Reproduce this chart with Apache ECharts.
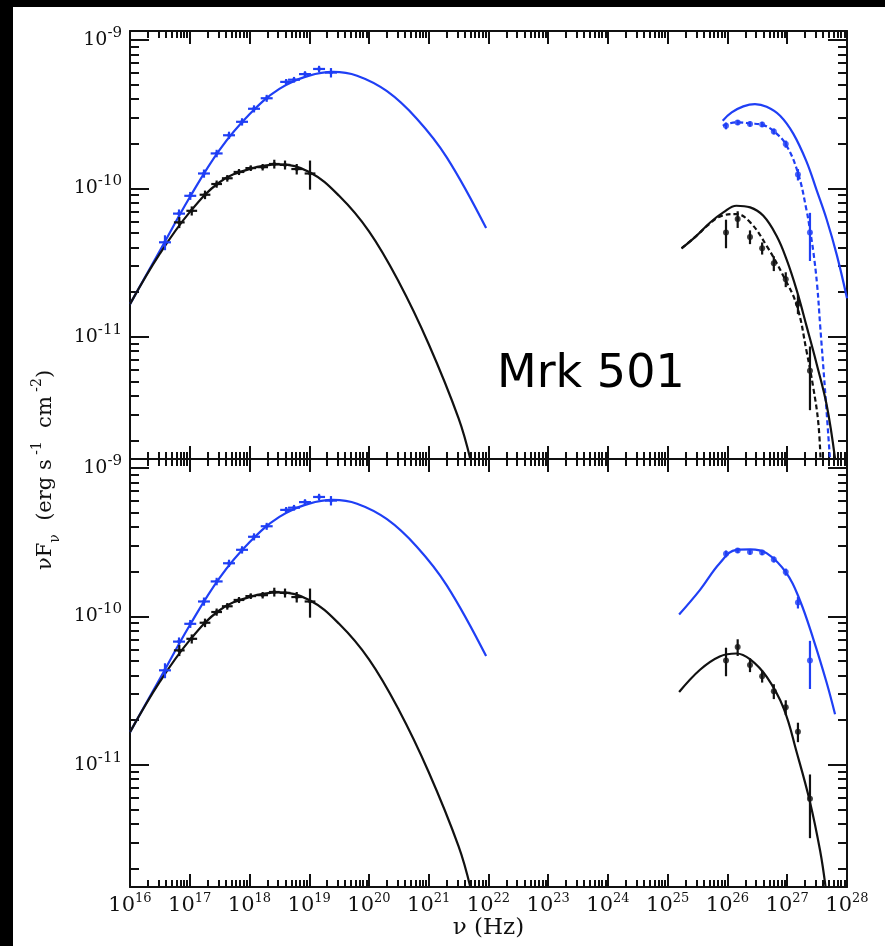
<!DOCTYPE html>
<html>
<head>
<meta charset="utf-8">
<script src="https://cdn.jsdelivr.net/npm/echarts@6/dist/echarts.min.js"></script>
<style>
  html, body { margin: 0; padding: 0; background: #000; }
  #chart { position: absolute; left: 13px; top: 7px; width: 872px; height: 939px; background: #fff; }
</style>
</head>
<body>
<div id="chart"></div>
<script>
// ---- axis decades (Hz and erg s^-1 cm^-2) ----
const nuDecades = [1e16, 1e17, 1e18, 1e19, 1e20, 1e21, 1e22, 1e23, 1e24, 1e25, 1e26, 1e27, 1e28];
const fluxDecades = [1e-12, 1e-11, 1e-10, 1e-9];
const NU_RANGE = [1e16, 1e28];
const FLUX_RANGE = [1.5e-12, 1.15e-9];

// ---- X-ray (synchrotron) observations, identical in both panels ----
const blueSynNu = [3.85e16, 6.61e16, 1.02e17, 1.73e17, 2.82e17, 4.54e17, 7.50e17, 1.19e18, 1.94e18, 4.11e18, 5.56e18, 8.49e18, 1.46e19, 2.31e19];
const blueSynFlux = [4.33e-11, 6.76e-11, 8.91e-11, 1.26e-10, 1.72e-10, 2.28e-10, 2.81e-10, 3.44e-10, 4.05e-10, 5.22e-10, 5.40e-10, 5.89e-10, 6.38e-10, 6.03e-10];
const blueSynErr = [0.5e-11, 0.45e-11, 0.55e-11, 0.8e-11, 1.0e-11, 1.3e-11, 1.6e-11, 1.9e-11, 2.2e-11, 2.4e-11, 2.4e-11, 2.7e-11, 3.2e-11, 4.4e-11];
const BLUE_SYN_BIN_DEX = 0.1;

const blackSynNu = [6.68e16, 1.08e17, 1.80e17, 2.82e17, 4.25e17, 6.67e17, 1.05e18, 1.66e18, 2.60e18, 3.93e18, 6.17e18, 1.03e19];
const blackSynFlux = [5.90e-11, 7.06e-11, 9.06e-11, 1.07e-10, 1.17e-10, 1.29e-10, 1.37e-10, 1.39e-10, 1.46e-10, 1.44e-10, 1.35e-10, 1.26e-10];
const blackSynErr = [0.5e-11, 0.5e-11, 0.6e-11, 0.6e-11, 0.6e-11, 0.6e-11, 0.6e-11, 0.7e-11, 1.0e-11, 1.0e-11, 1.1e-11, 2.8e-11];
const BLACK_SYN_BIN_DEX = 0.09;

// ---- TeV observations, identical in both panels ----
const icNu = [9.44e25, 1.48e26, 2.38e26, 3.80e26, 5.96e26, 9.44e26, 1.51e27, 2.40e27];
const blueIcFlux = [2.64e-10, 2.78e-10, 2.72e-10, 2.70e-10, 2.42e-10, 1.99e-10, 1.24e-10, 5.04e-11];
const blueIcErr = [0.14e-10, 0.11e-10, 0.11e-10, 0.11e-10, 0.11e-10, 0.11e-10, 0.11e-10, 1.8e-11];
const blackIcFlux = [5.05e-11, 6.21e-11, 4.71e-11, 3.95e-11, 3.13e-11, 2.44e-11, 1.67e-11, 5.9e-12];
const blackIcErr = [1.1e-11, 0.8e-11, 0.5e-11, 0.37e-11, 0.36e-11, 0.28e-11, 0.25e-11, 2.7e-12];
const IC_BIN_DEX = 0.015;

// ---- synchrotron model curves (both panels) ----
const synBlueModelNu = [1e16, 3.16e16, 1e17, 3.16e17, 1e18, 3.16e18, 1e19, 2.51e19, 6.31e19, 2e20, 6.31e20, 2e21, 9.12e21];
const synBlueModelFlux = [1.66e-11, 3.80e-11, 8.71e-11, 1.82e-10, 3.16e-10, 4.68e-10, 5.75e-10, 6.10e-10, 5.75e-10, 4.52e-10, 2.95e-10, 1.62e-10, 5.4e-11];
const synBlackModelNu = [1e16, 3.16e16, 1e17, 3.16e17, 1e18, 3.16e18, 1e19, 3.16e19, 1e20, 3.16e20, 1e21, 3.16e21, 5.0e21];
const synBlackModelFlux = [1.66e-11, 3.63e-11, 6.92e-11, 1.10e-10, 1.35e-10, 1.45e-10, 1.29e-10, 8.91e-11, 5.13e-11, 2.34e-11, 8.91e-12, 2.82e-12, 1.48e-12];

// ---- inverse-Compton model curves, upper panel (solid and dashed) ----
const icTopBlueSolidNu = [8.32e25, 1.175e26, 1.84e26, 2.88e26, 4.52e26, 7.59e26, 1.26e27, 2.11e27, 3.09e27, 4.57e27, 6.76e27, 1e28];
const icTopBlueSolidFlux = [2.86e-10, 3.25e-10, 3.57e-10, 3.70e-10, 3.55e-10, 3.09e-10, 2.34e-10, 1.51e-10, 9.77e-11, 6.17e-11, 3.55e-11, 1.82e-11];
const icTopBlueDashNu = [8.32e25, 1.41e26, 2.40e26, 3.98e26, 6.24e26, 9.77e26, 1.53e27, 2.11e27, 2.40e27, 2.72e27, 3.16e27, 3.55e27, 4.27e27, 5.25e27];
const icTopBlueDashFlux = [2.64e-10, 2.79e-10, 2.74e-10, 2.67e-10, 2.39e-10, 1.94e-10, 1.25e-10, 7.08e-11, 5.25e-11, 3.80e-11, 2.24e-11, 1.20e-11, 4.47e-12, 1.41e-12];
const icTopBlackSolidNu = [1.70e25, 3.02e25, 5.13e25, 8.51e25, 1.41e26, 2.40e26, 3.98e26, 6.61e26, 9.77e26, 1.45e27, 2.11e27, 3.09e27, 4.57e27, 6.31e27];
const icTopBlackSolidFlux = [3.94e-11, 4.79e-11, 5.89e-11, 6.89e-11, 7.64e-11, 7.45e-11, 6.53e-11, 4.79e-11, 3.31e-11, 2.04e-11, 1.175e-11, 6.61e-12, 3.47e-12, 1.51e-12];
const icTopBlackDashNu = [1.70e25, 3.02e25, 5.13e25, 7.94e25, 1.41e26, 2.40e26, 4.52e26, 8.61e26, 1.45e27, 2.11e27, 2.72e27, 3.31e27, 3.63e27];
const icTopBlackDashFlux = [3.94e-11, 4.79e-11, 5.82e-11, 6.53e-11, 6.71e-11, 5.90e-11, 4.10e-11, 2.57e-11, 1.62e-11, 7.94e-12, 4.57e-12, 2.63e-12, 1.41e-12];

// ---- inverse-Compton model curves, lower panel ----
const icBotBlueNu = [1.55e25, 3.47e25, 7.41e25, 1.41e26, 2.40e26, 4.57e26, 9.77e26, 1.62e27, 2.75e27, 4.57e27, 6.31e27];
const icBotBlueFlux = [1.03e-10, 1.51e-10, 2.28e-10, 2.81e-10, 2.83e-10, 2.66e-10, 1.95e-10, 1.29e-10, 6.98e-11, 3.57e-11, 2.19e-11];
const icBotBlackNu = [1.55e25, 3.47e25, 7.41e25, 1.41e26, 2.40e26, 4.57e26, 8.71e26, 1.45e27, 2.40e27, 3.55e27, 4.37e27];
const icBotBlackFlux = [3.09e-11, 4.37e-11, 5.37e-11, 5.62e-11, 5.13e-11, 3.89e-11, 2.40e-11, 1.20e-11, 5.62e-12, 2.63e-12, 1.51e-12];

// ---- styling ----
const INK = '#111111';
const BLUE = '#1f3ff5';
const SERIF = '"DejaVu Serif", "Liberation Serif", serif';

function minorTicks(decades, lo, hi) {
  const out = [];
  decades.forEach(d => {
    for (let k = 2; k <= 9; k++) {
      const v = k * d;
      if (v > lo && v < hi) out.push(v);
    }
  });
  return out;
}
const nuMinor = minorTicks(nuDecades, NU_RANGE[0], NU_RANGE[1]);
const fluxMajor = fluxDecades.filter(v => v >= FLUX_RANGE[0] && v <= FLUX_RANGE[1]);
const fluxMinor = minorTicks(fluxDecades, FLUX_RANGE[0], FLUX_RANGE[1]);

function powerLabel(value) {
  const e = Math.round(Math.log10(value));
  return '{b|10}{s|' + e + '}';
}

const frameLine = { show: true, onZero: false, lineStyle: { color: INK, width: 2 } };
const tickLine = { color: INK, width: 2 };

function xAxesFor(g, withLabels) {
  const base = {
    gridIndex: g, type: 'log', logBase: 10, min: NU_RANGE[0], max: NU_RANGE[1],
    splitLine: { show: false }, minorTick: { show: false }, minorSplitLine: { show: false }
  };
  return [
    Object.assign({}, base, {
      position: 'bottom', axisLine: frameLine,
      axisTick: { show: true, inside: true, length: 13, customValues: nuDecades, lineStyle: tickLine },
      axisLabel: {
        show: withLabels, customValues: nuDecades, formatter: powerLabel, margin: 8,
        rich: {
          b: { fontFamily: SERIF, fontSize: 21, color: INK, verticalAlign: 'bottom', lineHeight: 21 },
          s: { fontFamily: SERIF, fontSize: 13, color: INK, verticalAlign: 'bottom', lineHeight: 13, padding: [0, 0, 11, 0] }
        }
      },
      name: withLabels ? 'ν (Hz)' : '', nameLocation: 'middle', nameGap: 30,
      nameTextStyle: { fontFamily: SERIF, fontSize: 23, color: INK }
    }),
    Object.assign({}, base, {
      position: 'bottom', axisLine: { show: false },
      axisTick: { show: true, inside: true, length: 7, customValues: nuMinor, lineStyle: tickLine },
      axisLabel: { show: false }
    }),
    Object.assign({}, base, {
      position: 'top', axisLine: frameLine,
      axisTick: { show: true, inside: true, length: 13, customValues: nuDecades, lineStyle: tickLine },
      axisLabel: { show: false }
    }),
    Object.assign({}, base, {
      position: 'top', axisLine: { show: false },
      axisTick: { show: true, inside: true, length: 7, customValues: nuMinor, lineStyle: tickLine },
      axisLabel: { show: false }
    })
  ];
}

function yAxesFor(g) {
  const base = {
    gridIndex: g, type: 'log', logBase: 10, min: FLUX_RANGE[0], max: FLUX_RANGE[1],
    splitLine: { show: false }, minorTick: { show: false }, minorSplitLine: { show: false }
  };
  return [
    Object.assign({}, base, {
      position: 'left', axisLine: frameLine,
      axisTick: { show: true, inside: true, length: 19, customValues: fluxMajor, lineStyle: tickLine },
      axisLabel: {
        show: true, customValues: fluxMajor, formatter: powerLabel, margin: 8,
        rich: {
          b: { fontFamily: SERIF, fontSize: 19, color: INK, verticalAlign: 'bottom', lineHeight: 19 },
          s: { fontFamily: SERIF, fontSize: 15, color: INK, verticalAlign: 'bottom', lineHeight: 15, padding: [0, 0, 9, 0] }
        }
      }
    }),
    Object.assign({}, base, {
      position: 'left', axisLine: { show: false },
      axisTick: { show: true, inside: true, length: 9, customValues: fluxMinor, lineStyle: tickLine },
      axisLabel: { show: false }
    }),
    Object.assign({}, base, {
      position: 'right', axisLine: frameLine,
      axisTick: { show: true, inside: true, length: 19, customValues: fluxMajor, lineStyle: tickLine },
      axisLabel: { show: false }
    }),
    Object.assign({}, base, {
      position: 'right', axisLine: { show: false },
      axisTick: { show: true, inside: true, length: 9, customValues: fluxMinor, lineStyle: tickLine },
      axisLabel: { show: false }
    })
  ];
}

function pairs(xs, ys) { return xs.map((x, i) => [x, ys[i]]); }

function curve(g, xs, ys, color, dashed) {
  return {
    type: 'line', xAxisIndex: g * 4, yAxisIndex: g * 4, data: pairs(xs, ys),
    smooth: 0.4, showSymbol: false, symbol: 'none', clip: true, silent: true, z: 3,
    lineStyle: { color: color, width: 2.2, type: dashed ? [5, 3] : 'solid' }
  };
}

function errorRows(xs, ys, errs, binDex) {
  const f = Math.pow(10, binDex);
  return xs.map((x, i) => [x, ys[i], x / f, x * f, ys[i] - errs[i], ys[i] + errs[i]]);
}

function errorBars(g, xs, ys, errs, binDex, color) {
  return {
    type: 'custom', xAxisIndex: g * 4, yAxisIndex: g * 4, silent: true, z: 5,
    encode: { x: 0, y: 1 },
    data: errorRows(xs, ys, errs, binDex),
    renderItem: function (params, api) {
      const x = api.value(0), y = api.value(1);
      const pl = api.coord([api.value(2), y]), pr = api.coord([api.value(3), y]);
      const pb = api.coord([x, api.value(4)]), pt = api.coord([x, api.value(5)]);
      const style = { stroke: color, lineWidth: 2.2 };
      return {
        type: 'group',
        children: [
          { type: 'line', shape: { x1: pl[0], y1: pl[1], x2: pr[0], y2: pr[1] }, style: style },
          { type: 'line', shape: { x1: pb[0], y1: pb[1], x2: pt[0], y2: pt[1] }, style: style }
        ]
      };
    }
  };
}

function points(g, xs, ys, color, size) {
  return {
    type: 'scatter', xAxisIndex: g * 4, yAxisIndex: g * 4, data: pairs(xs, ys),
    symbol: 'circle', symbolSize: size, silent: true, z: 6,
    itemStyle: { color: color }
  };
}

function observations(g) {
  return [
    errorBars(g, blueSynNu, blueSynFlux, blueSynErr, BLUE_SYN_BIN_DEX, BLUE),
    points(g, blueSynNu, blueSynFlux, BLUE, 4),
    errorBars(g, blackSynNu, blackSynFlux, blackSynErr, BLACK_SYN_BIN_DEX, INK),
    points(g, blackSynNu, blackSynFlux, INK, 4),
    errorBars(g, icNu, blueIcFlux, blueIcErr, IC_BIN_DEX, BLUE),
    points(g, icNu, blueIcFlux, BLUE, 6),
    errorBars(g, icNu, blackIcFlux, blackIcErr, IC_BIN_DEX, INK),
    points(g, icNu, blackIcFlux, INK, 6)
  ];
}

const series = [
  // upper panel
  curve(0, synBlueModelNu, synBlueModelFlux, BLUE, false),
  curve(0, synBlackModelNu, synBlackModelFlux, INK, false),
  curve(0, icTopBlueSolidNu, icTopBlueSolidFlux, BLUE, false),
  curve(0, icTopBlueDashNu, icTopBlueDashFlux, BLUE, true),
  curve(0, icTopBlackSolidNu, icTopBlackSolidFlux, INK, false),
  curve(0, icTopBlackDashNu, icTopBlackDashFlux, INK, true),
  ...observations(0),
  // lower panel
  curve(1, synBlueModelNu, synBlueModelFlux, BLUE, false),
  curve(1, synBlackModelNu, synBlackModelFlux, INK, false),
  curve(1, icBotBlueNu, icBotBlueFlux, BLUE, false),
  curve(1, icBotBlackNu, icBotBlackFlux, INK, false),
  ...observations(1)
];

const chart = echarts.init(document.getElementById('chart'), null, { renderer: 'canvas' });
chart.setOption({
  animation: false,
  backgroundColor: '#ffffff',
  grid: [
    { left: 117, top: 24, width: 717, height: 428 },
    { left: 117, top: 452, width: 717, height: 428 }
  ],
  xAxis: [...xAxesFor(0, false), ...xAxesFor(1, true)],
  yAxis: [...yAxesFor(0), ...yAxesFor(1)],
  series: series,
  graphic: [
    {
      type: 'text', x: 484, y: 345, silent: true,
      style: { text: 'Mrk 501', fontFamily: '"DejaVu Sans", sans-serif', fontSize: 46, fill: '#000' }
    },
    {
      type: 'text', x: 38, y: 463, rotation: Math.PI / 2, silent: true,
      style: {
        text: '{a|νF}{sub|ν}{a|  (erg s}{sup| -1}{a|  cm}{sup| -2}{a|)}',
        align: 'center', verticalAlign: 'middle',
        rich: {
          a: { fontFamily: SERIF, fontSize: 21, fill: INK, verticalAlign: 'bottom', lineHeight: 22, padding: [0, 0, 6, 0] },
          sub: { fontFamily: SERIF, fontSize: 14, fill: INK, verticalAlign: 'bottom', lineHeight: 14 },
          sup: { fontFamily: SERIF, fontSize: 14, fill: INK, verticalAlign: 'bottom', lineHeight: 14, padding: [0, 0, 18, 0] }
        }
      }
    }
  ]
});
</script>
</body>
</html>
